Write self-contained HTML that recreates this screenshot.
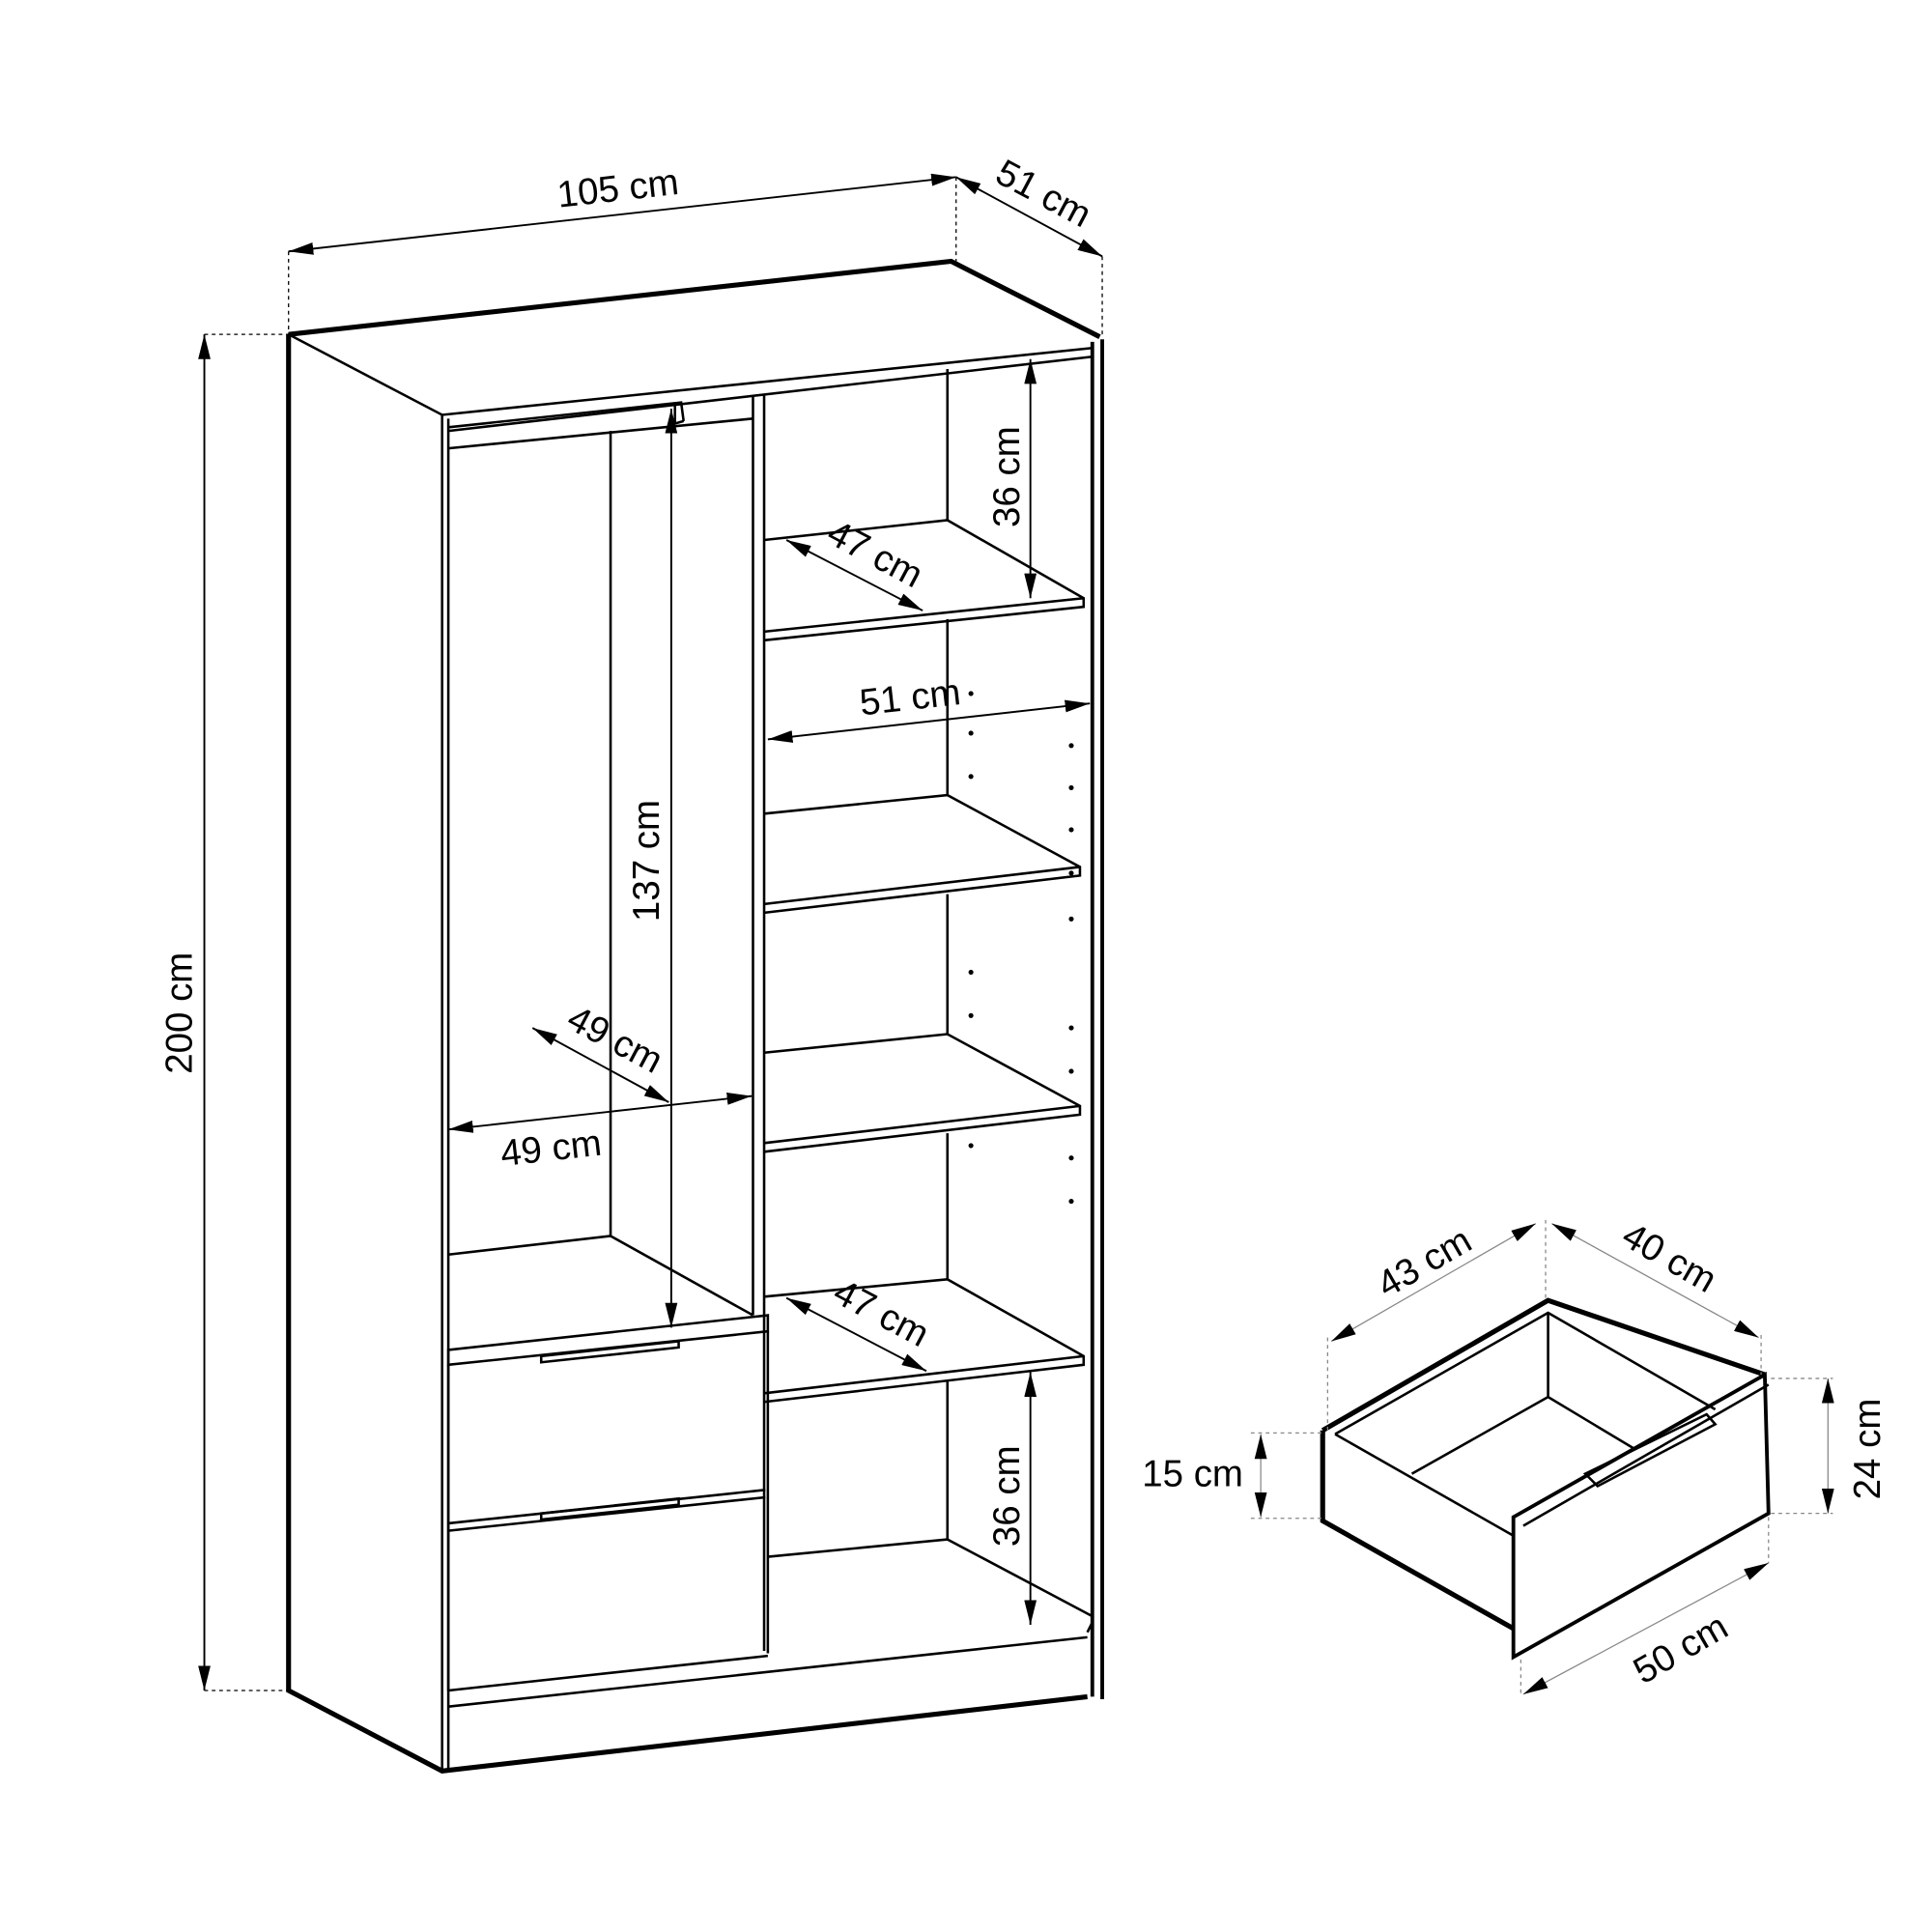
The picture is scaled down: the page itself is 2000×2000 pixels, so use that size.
<!DOCTYPE html>
<html><head><meta charset="utf-8"><style>html,body{margin:0;padding:0;background:#fff}svg{display:block}</style></head>
<body>
<svg width="2000" height="2000" viewBox="0 0 1560 1560" xmlns="http://www.w3.org/2000/svg" font-family="Liberation Sans, Arial, sans-serif" font-size="30" fill="none" stroke="#000">
<defs>
<marker id="a" viewBox="0 0 20 10" refX="20" refY="5" markerWidth="20" markerHeight="10" markerUnits="userSpaceOnUse" orient="auto-start-reverse"><path d="M0,0 L20,5 L0,10 z" fill="#000" stroke="none"/></marker>
</defs>
<g stroke-width="2">
<path d="M233,270 L768,211 L888,272" stroke-width="4"/>
<path d="M233,270 L357,335 L882,281" />
<path d="M233,270 L233,1365 L357,1430 L878,1370" stroke-width="4"/>
<path d="M882,276 L882,1370 M890,274 L890,1372" stroke-width="3"/>
<path d="M357,335 L357,1430 M362,338 L362,1428"/>
<path d="M362,348 L882,288"/>
<path d="M362,362 L608,338"/>
<path d="M608,320 L608,1062 M617,318 L617,1333"/>
<path d="M493,348 L493,998 M362,1013 L493,998 L608,1062"/>
<path d="M362,1090 L620,1062 L620,1075 L362,1102 Z"/>
<path d="M362,345 L550,325 L552,340 M545,327 L545,342 L552,340"/>
<path d="M362,1102 L362,1365 M620,1075 L620,1335"/>
<path d="M362,1230 L618,1203 M362,1236 L618,1209"/>
<path d="M362,1365 L620,1337"/>
<path d="M362,1378 L878,1322 M878,1318 L882,1310"/>
<path d="M437,1095 L548,1083 L548,1088 L437,1100 Z"/>
<path d="M437,1222 L548,1210 L548,1215 L437,1227 Z"/>
<path d="M765,298 L765,420 M765,500 L765,642 M765,722 L765,835 M765,915 L765,1033 M765,1115 L765,1243"/>
<path d="M617,436 L765,420 L875,483 L875,490 L617,517 M617,510 L875,483"/>
<path d="M617,657 L765,642 L872,700 L872,707 L617,737 M617,730 L872,700"/>
<path d="M617,850 L765,835 L872,893 L872,900 L617,930 M617,923 L872,893"/>
<path d="M617,1047 L765,1033 L875,1095 L875,1102 L617,1132 M617,1125 L875,1095"/>
<path d="M620,1257 L765,1243 L882,1305"/>
</g>
<g fill="#000" stroke="none">
<circle cx="784" cy="560" r="2"/><circle cx="784" cy="592" r="2"/><circle cx="784" cy="627" r="2"/><circle cx="784" cy="785" r="2"/><circle cx="784" cy="820" r="2"/><circle cx="784" cy="925" r="2"/>
<circle cx="865" cy="602" r="2"/><circle cx="865" cy="636" r="2"/><circle cx="865" cy="670" r="2"/><circle cx="865" cy="705" r="2"/><circle cx="865" cy="742" r="2"/><circle cx="865" cy="830" r="2"/><circle cx="865" cy="865" r="2"/><circle cx="865" cy="935" r="2"/><circle cx="865" cy="970" r="2"/>
</g>
<g stroke-width="1.5" marker-start="url(#a)" marker-end="url(#a)">
<path d="M233,203 L772,143"/>
<path d="M772,143 L890,207"/>
<path d="M165,270 L165,1365"/>
<path d="M832,290 L832,483"/>
<path d="M832,1108 L832,1312"/>
<path d="M635,436 L745,493"/>
<path d="M635,1048 L748,1107"/>
<path d="M620,597 L880,568"/>
<path d="M542,330 L542,1072"/>
<path d="M430,830 L540,890"/>
<path d="M362,912 L607,885"/>
</g>
<g stroke-width="1" stroke-dasharray="3,3">
<path d="M233,203 L233,270 M772,143 L772,211 M890,207 L890,272 M165,270 L233,270 M165,1365 L233,1365"/>
</g>
<g stroke-width="2">
<path d="M1068,1155 L1250,1050 L1425,1110" stroke-width="4"/>
<path d="M1078,1158 L1250,1060 L1385,1138"/>
<path d="M1068,1155 L1068,1228 L1222,1315" stroke-width="4"/>
<path d="M1078,1158 L1222,1240"/>
<path d="M1250,1060 L1250,1128 M1140,1190 L1250,1128 L1320,1170"/>
<path d="M1222,1225 L1425,1110 L1428,1222 L1222,1338 Z" stroke-width="3"/>
<path d="M1230,1232 L1428,1118"/>
<path d="M1280,1190 L1378,1142 L1385,1150 L1290,1200 Z"/>
</g>
<g stroke-width="1" stroke="#888" marker-start="url(#a)" marker-end="url(#a)">
<path d="M1075,1083 L1240,988"/>
<path d="M1253,988 L1420,1080"/>
<path d="M1230,1368 L1428,1262"/>
<path d="M1018,1158 L1018,1225"/>
<path d="M1476,1113 L1476,1222"/>
</g>
<g stroke-width="1" stroke="#888" stroke-dasharray="3,3">
<path d="M1072,1080 L1072,1155 M1248,985 L1248,1050 M1422,1078 L1422,1110 M1228,1340 L1228,1370 M1428,1225 L1428,1262 M1010,1157 L1068,1157 M1010,1226 L1068,1226 M1430,1113 L1480,1113 M1430,1222 L1480,1222"/>
</g>
<g fill="#000" stroke="none">
<text transform="translate(500,162) rotate(-6.4)" text-anchor="middle">105 cm</text>
<text transform="translate(838,165) rotate(28)" text-anchor="middle">51 cm</text>
<text transform="translate(155,818) rotate(-90)" text-anchor="middle">200 cm</text>
<text transform="translate(823,385) rotate(-90)" text-anchor="middle">36 cm</text>
<text transform="translate(823,1208) rotate(-90)" text-anchor="middle">36 cm</text>
<text transform="translate(532,695) rotate(-90)" text-anchor="middle">137 cm</text>
<text transform="translate(702,456) rotate(28)" text-anchor="middle">47 cm</text>
<text transform="translate(707,1069) rotate(28)" text-anchor="middle">47 cm</text>
<text transform="translate(736,573) rotate(-6.4)" text-anchor="middle">51 cm</text>
<text transform="translate(492,848) rotate(28)" text-anchor="middle">49 cm</text>
<text transform="translate(446,937) rotate(-6.4)" text-anchor="middle">49 cm</text>
<text transform="translate(1155,1028) rotate(-30)" text-anchor="middle">43 cm</text>
<text transform="translate(1343,1024) rotate(30)" text-anchor="middle">40 cm</text>
<text transform="translate(1362,1340) rotate(-30)" text-anchor="middle">50 cm</text>
<text x="963" y="1200" text-anchor="middle">15 cm</text>
<text transform="translate(1518,1170) rotate(-90)" text-anchor="middle">24 cm</text>
</g>
</svg>
</body></html>
